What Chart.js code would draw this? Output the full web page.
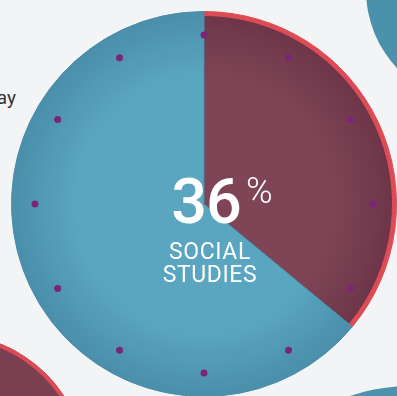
<!DOCTYPE html>
<html>
<head>
<meta charset="utf-8">
<script src="https://cdn.jsdelivr.net/npm/chart.js@4.4.1/dist/chart.umd.min.js"></script>
<style>
  html, body { margin: 0; padding: 0; }
  body {
    width: 397px; height: 396px; overflow: hidden; position: relative;
    background: #f3f4f5;
    font-family: Roboto, "Noto Sans", sans-serif;
  }
  .blob { position: absolute; border-radius: 50%; }
  #blob-tr { left: 366px; top: -124px; width: 228px; height: 228px; background: #4a92ac; }
  #blob-bl { left: -186px; top: 334px; width: 272px; height: 272px; background: #7a3f50; box-shadow: inset 0 0 0 4px #de4b55; }
  #blob-br { left: 225px; top: 386px; width: 370px; height: 370px; background: #4b92ad; }
  .pane { position: absolute; left: 4px; top: 4px; width: 400px; height: 400px; }
  .txt { position: absolute; color: #fff; line-height: 1; white-space: nowrap; }
  #pct { left: 106px; width: 200px; top: 170px; font-size: 63px; font-weight: 500; text-align: center; letter-spacing: -1px; }
  #pct-sign { left: 246px; top: 173px; font-size: 36px; font-weight: 300; }
  #lbl1, #lbl2 { left: 110px; width: 200px; font-size: 23px; font-weight: 400; text-align: center; letter-spacing: 0.6px; }
  #lbl1 { top: 240px; }
  #lbl2 { top: 263px; }
  #side { position: absolute; right: 381px; top: 88px; font-size: 19px; font-weight: 400; color: #333; line-height: 1; }
</style>
</head>
<body>
<div class="blob" id="blob-tr"></div>
<div class="blob" id="blob-bl"></div>
<div class="blob" id="blob-br"></div>
<div id="side">ay</div>

<div class="pane"><canvas id="pie" width="400" height="400"></canvas></div>
<div class="pane"><canvas id="ticks" width="400" height="400"></canvas></div>

<div class="txt" id="pct">36</div>
<div class="txt" id="pct-sign">%</div>
<div class="txt" id="lbl1">SOCIAL</div>
<div class="txt" id="lbl2">STUDIES</div>

<script>
// ── Data ─────────────────────────────────────────────────────────
const subjects   = ['Social Studies', 'Other'];
const shares     = [36, 64];
const clockMarks = ['12', '1', '2', '3', '4', '5', '6', '7', '8', '9', '10', '11'];
const markLevel  = [169, 169, 169, 169, 169, 169, 169, 169, 169, 169, 169, 169];
const scaleMax   = 193;

const blueIn   = '#5aa6c1';
const blueOut  = '#4a8eaa';
const wineIn   = '#7f4557';
const wineOut  = '#6c3547';
const redRim   = '#de4b55';
const dotColor = '#7a2577';

// radial shading, lighter towards the middle
function radial(chart, inner, outer) {
    const area = chart.chartArea;
    if (!area) return inner;
    const cx = (area.left + area.right) / 2;
    const cy = (area.top + area.bottom) / 2;
    const r  = Math.min(area.width, area.height) / 2;
    const g = chart.ctx.createRadialGradient(cx, cy, 0, cx, cy, r);
    g.addColorStop(0, inner);
    g.addColorStop(0.65, inner);
    g.addColorStop(1, outer);
    return g;
}

Chart.defaults.animation = false;

// ── Pie: outer rim ring + main slices ────────────────────────────
new Chart(document.getElementById('pie'), {
    type: 'pie',
    data: {
        labels: subjects,
        datasets: [
            {
                data: shares,
                weight: 4,
                backgroundColor: (c) => c.dataIndex === 0 ? redRim : radial(c.chart, blueIn, blueOut),
                borderColor: (c) => c.dataIndex === 0 ? redRim : blueOut,
                borderWidth: 1,
            },
            {
                data: shares,
                weight: 189,
                backgroundColor: (c) => c.dataIndex === 0
                    ? radial(c.chart, wineIn, wineOut)
                    : radial(c.chart, blueIn, blueOut),
                borderColor: (c) => c.dataIndex === 0 ? wineOut : blueOut,
                borderWidth: 1,
            }
        ]
    },
    options: {
        responsive: false,
        layout: { padding: 7 },
        plugins: { legend: { display: false }, tooltip: { enabled: false } }
    }
});

// ── Clock dots round the face ────────────────────────────────────
new Chart(document.getElementById('ticks'), {
    type: 'radar',
    data: {
        labels: clockMarks,
        datasets: [{
            data: markLevel,
            showLine: false,
            borderWidth: 0,
            backgroundColor: 'transparent',
            pointRadius: 3.5,
            pointBorderWidth: 0,
            pointBackgroundColor: dotColor,
        }]
    },
    options: {
        responsive: false,
        layout: { padding: 7 },
        plugins: { legend: { display: false }, tooltip: { enabled: false } },
        scales: {
            r: {
                min: 0, max: scaleMax,
                ticks: { display: false },
                grid: { display: false },
                angleLines: { display: false },
                pointLabels: { display: false }
            }
        }
    }
});
</script>
</body>
</html>
